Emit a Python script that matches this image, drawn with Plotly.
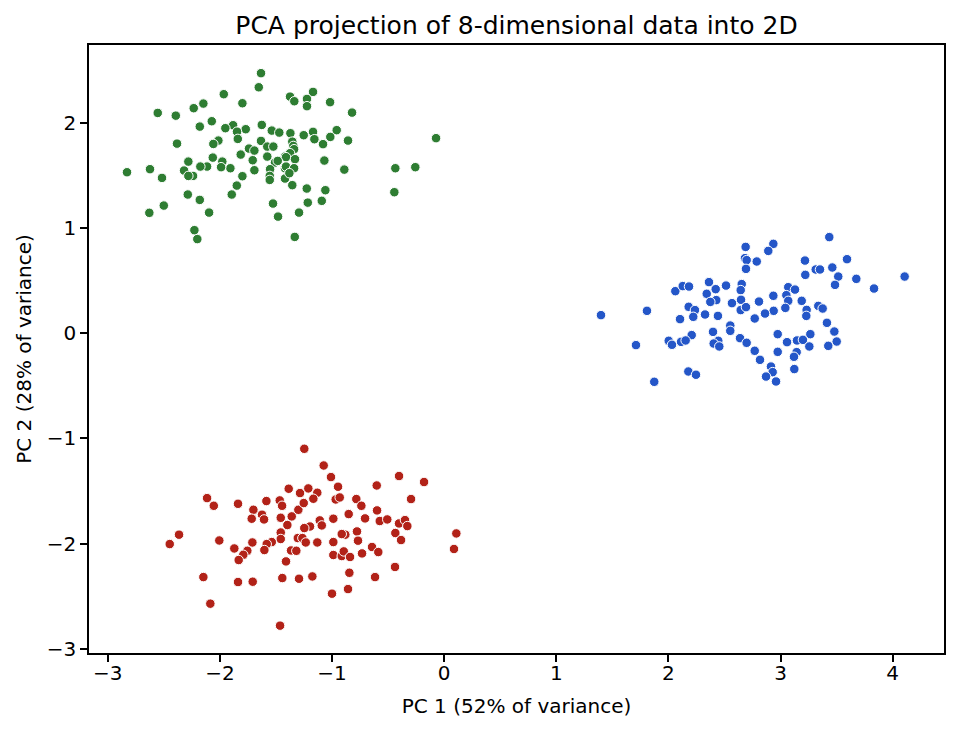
import plotly.graph_objects as go

# Cluster A (green)
green_pc1 = [-1.633, -1.653, -1.965, -1.799, -2.147, -2.233, -2.554, -2.393, -2.072, -2.179,
             -1.882, -1.951, -1.769, -1.847, -1.626, -1.537, -1.470, -1.840, -2.013, -2.058,
             -2.382, -1.633, -1.577, -1.523, -1.740, -1.692, -1.814, -1.577, -1.419, -2.063,
             -1.707, -2.281, -1.978, -1.508, -1.906, -2.114, -2.174, -1.989, -2.319, -1.692,
             -1.552, -1.419, -2.828, -2.623, -2.516, -2.239, -2.281, -1.799, -1.555, -1.555,
             -1.419, -1.849, -1.894, -2.286, -2.179, -1.526, -2.500, -2.629, -2.096, -1.481,
             -2.227, -2.201, -1.169, -1.374, -1.336, -1.223, -1.223, -1.017, -0.821, -1.371,
             -1.252, -1.169, -1.157, -0.958, -1.015, -1.080, -0.857, -0.072, -1.354, -1.345,
             -1.338, -1.374, -1.410, -1.330, -1.484, -1.068, -0.890, -0.435, -0.257, -1.410,
             -1.338, -1.380, -1.354, -1.225, -1.059, -0.444, -1.216, -1.091, -1.294, -1.332]
green_pc2 = [2.473, 2.339, 2.273, 2.187, 2.184, 2.140, 2.095, 2.069, 2.016, 1.965,
             1.978, 1.950, 1.940, 1.917, 1.981, 1.927, 1.908, 1.848, 1.832, 1.800,
             1.803, 1.829, 1.775, 1.775, 1.756, 1.737, 1.699, 1.680, 1.680, 1.670,
             1.645, 1.632, 1.632, 1.623, 1.569, 1.585, 1.585, 1.579, 1.547, 1.550,
             1.560, 1.569, 1.531, 1.560, 1.477, 1.496, 1.496, 1.493, 1.496, 1.458,
             1.471, 1.404, 1.319, 1.319, 1.268, 1.233, 1.214, 1.145, 1.147, 1.109,
             0.980, 0.895, 2.295, 2.250, 2.206, 2.228, 2.159, 2.197, 2.098, 1.902,
             1.883, 1.915, 1.845, 1.931, 1.867, 1.798, 1.832, 1.855, 1.822, 1.781,
             1.750, 1.712, 1.674, 1.655, 1.639, 1.642, 1.556, 1.569, 1.579, 1.585,
             1.569, 1.522, 1.408, 1.376, 1.360, 1.341, 1.242, 1.259, 1.147, 0.916]

# Cluster B (red)
red_pc1 = [-1.386, -2.114, -2.054, -1.838, -1.585, -1.466, -1.445, -1.701, -1.624, -1.716,
           -1.606, -1.457, -1.359, -1.300, -1.398, -2.364, -2.447, -2.005, -1.710, -1.457,
           -1.457, -1.537, -1.582, -1.603, -1.871, -1.755, -1.791, -1.832, -1.365, -1.318,
           -1.305, -1.410, -2.147, -1.838, -1.707, -1.443, -1.294, -2.085, -1.463, -1.285,
           -1.247, -1.074, -1.009, -0.946, -0.402, -0.179, -0.601, -0.295, -1.211, -1.131,
           -1.166, -1.252, -0.967, -0.931, -0.783, -0.738, -0.851, -0.988, -0.705, -0.598,
           -0.574, -0.507, -0.402, -0.349, -0.328, -0.435, -0.384, -1.109, -1.196, -1.091,
           -1.247, -1.264, -1.234, -1.131, -0.881, -0.913, -0.777, -0.768, -0.988, -0.643,
           -0.587, -0.732, -0.988, -0.913, -0.895, -0.839, -0.438, -0.845, -0.616, -1.175,
           -0.857, -1.000, 0.109, 0.088]
red_pc2 = [-1.479, -1.568, -1.641, -1.622, -1.596, -1.590, -1.641, -1.679, -1.726, -1.764,
           -1.771, -1.755, -1.742, -1.679, -1.824, -1.916, -2.005, -1.971, -1.990, -1.895,
           -1.957, -1.986, -2.005, -2.062, -2.047, -2.069, -2.107, -2.157, -2.066, -2.069,
           -1.948, -2.170, -2.319, -2.366, -2.363, -2.328, -2.335, -2.572, -2.781, -1.520,
           -1.099, -1.258, -1.368, -1.460, -1.358, -1.415, -1.448, -1.577, -1.476, -1.517,
           -1.574, -1.615, -1.581, -1.562, -1.577, -1.641, -1.720, -1.764, -1.761, -1.685,
           -1.786, -1.771, -1.809, -1.777, -1.834, -1.900, -1.967, -1.780, -1.838, -1.828,
           -1.853, -1.948, -1.990, -1.990, -1.916, -1.910, -1.885, -1.973, -1.986, -2.033,
           -2.081, -2.094, -2.109, -2.119, -2.075, -2.128, -2.223, -2.278, -2.319, -2.313,
           -2.433, -2.477, -1.904, -2.052]

# Cluster C (blue)
blue_pc1 = [1.399, 1.809, 1.711, 1.874, 2.689, 2.683, 2.698, 2.788, 2.692, 2.062,
            2.128, 2.184, 2.362, 2.422, 2.514, 2.654, 2.645, 2.342, 2.427, 2.374,
            2.567, 2.648, 2.645, 2.692, 2.808, 2.181, 2.237, 2.222, 2.104, 2.327,
            2.442, 2.770, 2.552, 2.552, 2.398, 2.208, 2.003, 2.032, 2.113, 2.154,
            2.445, 2.404, 2.454, 2.639, 2.698, 2.770, 2.817, 2.178, 2.246, 3.435,
            2.936, 2.891, 3.218, 3.593, 3.314, 3.352, 3.462, 3.221, 3.515, 3.676,
            4.107, 3.486, 3.834, 3.069, 3.129, 3.052, 3.069, 2.936, 3.189, 3.043,
            2.939, 2.862, 3.233, 3.230, 3.337, 3.376, 3.414, 3.480, 3.501, 3.426,
            3.266, 2.975, 3.058, 3.147, 3.200, 3.257, 2.975, 3.144, 3.120, 2.915,
            2.930, 2.871, 2.960, 3.123]
blue_pc2 = [0.172, 0.213, -0.113, -0.462, 0.821, 0.714, 0.695, 0.682, 0.612, 0.400,
            0.448, 0.444, 0.486, 0.419, 0.453, 0.467, 0.410, 0.375, 0.315, 0.298,
            0.286, 0.318, 0.220, 0.248, 0.301, 0.251, 0.220, 0.156, 0.134, 0.178,
            0.165, 0.140, 0.073, 0.023, 0.013, -0.018, -0.072, -0.110, -0.082, -0.069,
            -0.072, -0.098, -0.126, -0.047, -0.091, -0.167, -0.253, -0.364, -0.395, 0.914,
            0.850, 0.783, 0.691, 0.704, 0.606, 0.606, 0.625, 0.555, 0.539, 0.517,
            0.539, 0.460, 0.425, 0.438, 0.415, 0.362, 0.308, 0.356, 0.308, 0.241,
            0.213, 0.187, 0.222, 0.165, 0.260, 0.235, 0.099, 0.016, -0.079, -0.120,
            -0.009, -0.009, -0.085, -0.069, -0.063, -0.126, -0.177, -0.180, -0.224, -0.317,
            -0.370, -0.412, -0.459, -0.341]

x_ticks = [-3, -2, -1, 0, 1, 2, 3, 4]
y_ticks = [-3, -2, -1, 0, 1, 2]

title_text = "PCA projection of 8-dimensional data into 2D"
x_label = "PC 1 (52% of variance)"
y_label = "PC 2 (28% of variance)"

font_family = "DejaVu Sans, Liberation Sans, sans-serif"

fig = go.Figure()
for xs, ys, col in [(green_pc1, green_pc2, "#2e7d32"),
                    (red_pc1, red_pc2, "#b22218"),
                    (blue_pc1, blue_pc2, "#2456c8")]:
    fig.add_trace(go.Scatter(
        x=xs, y=ys, mode="markers",
        marker=dict(size=9.5, color=col, line=dict(color="white", width=1)),
        showlegend=False,
    ))

axis_common = dict(
    showgrid=False, zeroline=False, showline=True, mirror=True,
    linecolor="#000000", linewidth=1.5,
    ticks="outside", ticklen=7, tickwidth=1.5, tickcolor="#000000",
    tickfont=dict(family=font_family, size=20, color="#000000"),
    title_font=dict(family=font_family, size=20, color="#000000"),
)

fig.update_layout(
    width=959, height=732,
    margin=dict(l=89, r=15, t=45, b=79),
    paper_bgcolor="white", plot_bgcolor="white",
    title=dict(text=title_text, x=0.5, xanchor="center", xref="paper",
               y=1 - 25 / 732, yanchor="middle", yref="container",
               font=dict(family=font_family, size=25, color="#000000")),
    xaxis=dict(range=[-3.167, 4.458], tickvals=x_ticks,
               ticktext=[str(v).replace("-", "\u2212") for v in x_ticks],
               ticklabelstandoff=-6,
               title=dict(text=x_label, standoff=15), **axis_common),
    yaxis=dict(range=[-3.041, 2.741], tickvals=y_ticks,
               ticktext=[str(v).replace("-", "\u2212") for v in y_ticks],
               title=dict(text=y_label, standoff=10), **axis_common),
)

fig.write_html("out.html")
